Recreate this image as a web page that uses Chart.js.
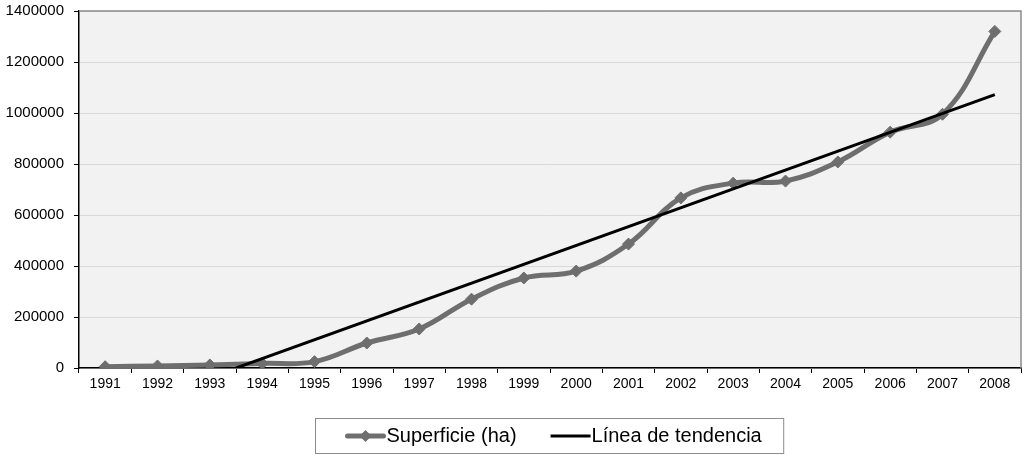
<!DOCTYPE html>
<html>
<head>
<meta charset="utf-8">
<script src="https://cdn.jsdelivr.net/npm/chart.js@4/dist/chart.umd.min.js"></script>
<style>
  html, body { margin: 0; padding: 0; background: #ffffff; }
  #wrap { width: 1028px; height: 455px; position: relative; }
</style>
</head>
<body>
<div id="wrap"><canvas id="c" width="1028" height="455"></canvas></div>
<script>
// Años de la serie
const years = ['1991','1992','1993','1994','1995','1996','1997','1998','1999',
               '2000','2001','2002','2003','2004','2005','2006','2007','2008'];

// Superficie cultivada (ha)
const superficie = [5000, 8000, 12000, 18000, 25000, 98000, 153000, 270000, 353000,
                    380000, 486000, 667000, 725000, 733000, 808000, 925000, 995000, 1320000];

// Extremos de la línea de tendencia (1991 y 2008)
const trendStart = -185000;
const trendEnd = 1072000;

// Etiquetas del eje vertical
const yTicks = [0, 200000, 400000, 600000, 800000, 1000000, 1200000, 1400000];

const serieLabel = 'Superficie (ha)';
const trendLabel = 'Línea de tendencia';

const FONT = "'Liberation Sans', Arial, sans-serif";

// Fondo gris del área de trazado y marco superior/derecho
const plotFrame = {
  id: 'plotFrame',
  beforeDraw(chart) {
    const { ctx, chartArea: a } = chart;
    ctx.save();
    ctx.fillStyle = '#f2f2f2';
    ctx.fillRect(a.left, a.top, a.right - a.left, a.bottom - a.top);
    ctx.restore();
  },
  afterDatasetsDraw(chart) {
    const { ctx, chartArea: a } = chart;
    ctx.save();
    ctx.strokeStyle = '#8c8c8c';
    ctx.lineWidth = 1.5;
    ctx.beginPath();
    ctx.moveTo(a.left, a.top);
    ctx.lineTo(a.right, a.top);
    ctx.lineTo(a.right, a.bottom);
    ctx.stroke();
    ctx.restore();
  }
};

// Leyenda enmarcada bajo el gráfico
const boxedLegend = {
  id: 'boxedLegend',
  afterDraw(chart) {
    const { ctx, chartArea: a } = chart;
    const ds = chart.data.datasets;
    ctx.save();
    ctx.font = '20px ' + FONT;
    const sample = 40, gapText = 1, gapItems = 34, padL = 30, padR = 22;
    const w1 = ctx.measureText(ds[0].label).width;
    const w2 = ctx.measureText(ds[1].label).width;
    const total = padL + sample + gapText + w1 + gapItems + sample + gapText + w2 + padR;
    const cx = (a.left + a.right) / 2 - 1;
    const left = Math.round(cx - total / 2) + 0.5;
    const top = 418.5, h = 35;
    ctx.strokeStyle = '#8c8c8c';
    ctx.lineWidth = 1;
    ctx.strokeRect(left, top, total, h);
    const my = top + h / 2;
    let x = left + padL;
    // muestra de la serie con rombo
    ctx.strokeStyle = ds[0].borderColor;
    ctx.lineWidth = 5;
    ctx.lineCap = 'round';
    ctx.beginPath(); ctx.moveTo(x + 2, my); ctx.lineTo(x + sample - 2, my); ctx.stroke();
    ctx.fillStyle = ds[0].pointBackgroundColor;
    const mx = x + sample / 2, r = 6;
    ctx.beginPath();
    ctx.moveTo(mx, my - r); ctx.lineTo(mx + r, my); ctx.lineTo(mx, my + r); ctx.lineTo(mx - r, my);
    ctx.closePath(); ctx.fill();
    x += sample + gapText;
    ctx.fillStyle = '#000';
    ctx.textBaseline = 'middle';
    ctx.textAlign = 'left';
    ctx.fillText(ds[0].label, x, my);
    x += w1 + gapItems;
    // muestra de la tendencia
    ctx.strokeStyle = ds[1].borderColor;
    ctx.lineWidth = 3;
    ctx.lineCap = 'butt';
    ctx.beginPath(); ctx.moveTo(x, my); ctx.lineTo(x + sample, my); ctx.stroke();
    x += sample + gapText;
    ctx.fillText(ds[1].label, x, my);
    ctx.restore();
  }
};

new Chart(document.getElementById('c'), {
  type: 'line',
  data: {
    labels: years,
    datasets: [
      {
        label: serieLabel,
        data: superficie,
        borderColor: '#6e6e6e',
        backgroundColor: '#6e6e6e',
        pointBackgroundColor: '#6e6e6e',
        pointBorderColor: '#6e6e6e',
        borderWidth: 5,
        tension: 0.4,
        cubicInterpolationMode: 'default',
        pointStyle: 'rectRot',
        pointRadius: 6,
        pointBorderWidth: 1,
        order: 2
      },
      {
        label: trendLabel,
        data: [{ x: years[0], y: trendStart }, { x: years[years.length - 1], y: trendEnd }],
        borderColor: '#000000',
        backgroundColor: '#000000',
        borderWidth: 3,
        pointRadius: 0,
        tension: 0,
        clip: 0,
        order: 1
      }
    ]
  },
  options: {
    responsive: false,
    animation: false,
    events: [],
    layout: { padding: { top: 11, right: 5, bottom: 0, left: 0 } },
    plugins: {
      legend: { display: false },
      tooltip: { enabled: false }
    },
    scales: {
      x: {
        type: 'category',
        offset: true,
        afterFit(scale) { scale.height = 87; scale.paddingRight = 0; },
        grid: {
          offset: true,
          drawOnChartArea: false,
          drawTicks: true,
          tickLength: 5,
          tickColor: '#000'
        },
        border: { color: '#000', width: 1.5 },
        ticks: {
          color: '#000',
          font: { family: FONT, size: 14 },
          padding: 3,
          maxRotation: 0,
          autoSkip: false
        }
      },
      y: {
        min: 0,
        max: 1400000,
        afterFit(scale) { scale.width = 79; scale.paddingTop = 0; scale.paddingBottom = 0; },
        afterBuildTicks(scale) { scale.ticks = yTicks.map(v => ({ value: v })); },
        grid: {
          color: '#d9d9d9',
          lineWidth: 1,
          tickLength: 5,
          tickColor: '#000'
        },
        border: { color: '#000', width: 1.5 },
        ticks: {
          color: '#000',
          font: { family: FONT, size: 15 },
          padding: 10,
          callback: v => String(v)
        }
      }
    }
  },
  plugins: [plotFrame, boxedLegend]
});
</script>
</body>
</html>
